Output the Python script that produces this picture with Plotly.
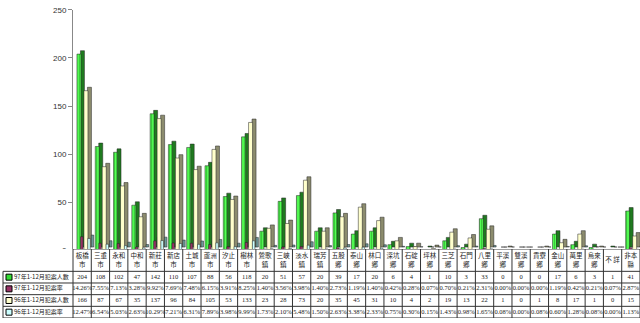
import plotly.graph_objects as go

categories = ["板橋市", "三重市", "永和市", "中和市", "新莊市", "新店市", "土城市", "蘆洲市",
              "汐止市", "樹林市", "鶯歌鎮", "三峽鎮", "淡水鎮", "瑞芳鎮", "五股鄉", "泰山鄉",
              "林口鄉", "深坑鄉", "石碇鄉", "坪林鄉", "三芝鄉", "石門鄉", "八里鄉", "平溪鄉",
              "雙溪鄉", "貢寮鄉", "金山鄉", "萬里鄉", "烏來鄉", "不詳", "非本縣"]

series_names = ["97年1-12月犯案人數", "97年1-12月犯案率", "96年1-12月犯案人數", "96年1-12月犯案率"]

count97 = [204, 108, 102, 47, 142, 110, 107, 88, 56, 118, 20, 51, 57, 20, 39, 17,
           20, 6, 4, 1, 10, 3, 33, 0, 0, 0, 17, 6, 3, 1, 41]
rate97 = [14.26, 7.55, 7.13, 3.28, 9.92, 7.69, 7.48, 6.15, 3.91, 8.25, 1.40, 3.56, 3.98, 1.40, 2.73, 1.19,
          1.40, 0.42, 0.28, 0.07, 0.70, 0.21, 2.31, 0.00, 0.00, 0.00, 1.19, 0.42, 0.21, 0.07, 2.87]
count96 = [166, 87, 67, 35, 137, 96, 84, 105, 53, 133, 23, 28, 73, 20, 35, 45,
           31, 10, 4, 2, 19, 13, 22, 1, 0, 1, 8, 17, 1, 0, 15]
rate96 = [12.47, 6.54, 5.03, 2.63, 10.29, 7.21, 6.31, 7.89, 3.98, 9.99, 1.73, 2.10, 5.48, 1.50, 2.63, 3.38,
          2.33, 0.75, 0.30, 0.15, 1.43, 0.98, 1.65, 0.08, 0.00, 0.08, 0.60, 1.28, 0.08, 0.00, 1.13]

key_colors = ["#33dd33", "#993366", "#ffffcc", "#ccffff"]

W, H = 640, 323
PLOT_LEFT = 73
TABLE_TOP = 252
n = len(categories)
cat_px = (W - PLOT_LEFT) / n
x = list(range(n))


def u(px):
    return px / cat_px


DEPTH_PX = 3.5
depth_units = DEPTH_PX * 250 / 247.5

fig = go.Figure()


def add_3d(values, left_px, width_px, front, side, pattern=None):
    fig.add_trace(go.Bar(
        x=x, y=values, base=[depth_units] * n,
        offset=u(left_px + DEPTH_PX), width=u(width_px),
        marker=dict(color=side, line=dict(color="#222222", width=0.5)),
        hoverinfo="skip"))
    m = dict(color=front, line=dict(color="#222222", width=0.5))
    if pattern:
        m["pattern"] = pattern
    fig.add_trace(go.Bar(x=x, y=values, offset=u(left_px), width=u(width_px), marker=m))


add_3d(count97, -5.2, 4, "#44ee44", "#1f7a1f",
       dict(shape="|", fgcolor="#0a6a0a", bgcolor="#55ff55", size=2.5, solidity=0.35))
add_3d(rate97, -1.6, 2.5, "#993366", "#5a1e3c")
add_3d(count96, 1.8, 4, "#ffffcc", "#8c8c6e")
add_3d(rate96, 5.6, 2.5, "#ccffff", "#6e9999")

# ---------------- data table drawn on its own axes ----------------
tbl_h = H - TABLE_TOP            # 71 px
hdr_h = 23
row_h = (tbl_h - hdr_h) / 4      # 12 px
row_bounds = [hdr_h + k * row_h for k in range(5)]
row_centers = [hdr_h + (k + 0.5) * row_h for k in range(4)]
x_left = -0.5 - PLOT_LEFT / cat_px
lab_left = -0.5 - (PLOT_LEFT - 3) / cat_px

hdr_top = [c[:-1] if len(c) == 3 else "" for c in categories]
hdr_bot = [c[-1] if len(c) == 3 else "" for c in categories]
hdr_mid = ["" if len(c) == 3 else " ".join(c) for c in categories]
hdr_font = dict(family="Noto Sans CJK TC", size=6.5, color="#222222")
for txt, yy in ((hdr_top, 7.5), (hdr_bot, 17), (hdr_mid, 11.5)):
    fig.add_trace(go.Scatter(
        x=x, y=[yy] * n, text=txt, mode="text", textfont=hdr_font,
        xaxis="x2", yaxis="y2", cliponaxis=False, hoverinfo="skip"))


def pct(v):
    return f"{v:.2f}%"


row_texts = [[str(v) for v in count97], [pct(v) for v in rate97],
             [str(v) for v in count96], [pct(v) for v in rate96]]
for k in range(4):
    fig.add_trace(go.Scatter(
        x=x, y=[row_centers[k]] * n, text=row_texts[k], mode="text",
        textfont=dict(family="Liberation Serif", size=6.5, color="#222222"),
        xaxis="x2", yaxis="y2", cliponaxis=False, hoverinfo="skip"))

# row labels & keys
fig.add_trace(go.Scatter(
    x=[lab_left + u(11)] * 4, y=row_centers, text=series_names, mode="text",
    textposition="middle right",
    textfont=dict(family="Noto Sans CJK TC", size=6, color="#222222"),
    xaxis="x2", yaxis="y2", cliponaxis=False, hoverinfo="skip"))
fig.add_trace(go.Scatter(
    x=[lab_left + u(6)] * 4, y=row_centers, mode="markers",
    marker=dict(symbol="square", size=6, color=key_colors, line=dict(color="#000000", width=1)),
    xaxis="x2", yaxis="y2", cliponaxis=False, hoverinfo="skip"))

shapes = []
line = dict(color="#333333", width=1)
for k in range(n + 1):
    shapes.append(dict(type="line", xref="x2", yref="y2", x0=k - 0.5, x1=k - 0.5,
                       y0=0, y1=tbl_h, line=line))
shapes.append(dict(type="line", xref="x2", yref="y2", x0=lab_left, x1=lab_left,
                   y0=hdr_h, y1=tbl_h, line=line))
shapes.append(dict(type="line", xref="x2", yref="y2", x0=-0.5, x1=n - 0.5,
                   y0=0, y1=0, line=line))
for yb in row_bounds:
    shapes.append(dict(type="line", xref="x2", yref="y2", x0=lab_left, x1=n - 0.5,
                       y0=yb, y1=yb, line=line))

fig.update_layout(
    width=W, height=H,
    margin=dict(l=0, r=0, t=0, b=0),
    paper_bgcolor="white", plot_bgcolor="white",
    barmode="overlay", showlegend=False,
    shapes=shapes,
    xaxis=dict(domain=[PLOT_LEFT / W, 1], range=[-0.5, n - 0.5],
               showticklabels=False, showgrid=False, zeroline=False, showline=False, ticks=""),
    yaxis=dict(domain=[1 - 253.5 / H, 1 - 6 / H], range=[0, 250], dtick=50,
               showgrid=False, zeroline=False, showline=True, linecolor="#888888", linewidth=1,
               ticks="outside", ticklen=4, tickcolor="#888888",
               tickfont=dict(family="Arial, Liberation Sans", size=8, color="#333333")),
    xaxis2=dict(domain=[0, 1], range=[x_left, n - 0.5], visible=False, anchor="y2"),
    yaxis2=dict(domain=[0, 1 - TABLE_TOP / H], range=[tbl_h, 0], visible=False, anchor="x2"),
)

fig.write_html("out.html")
